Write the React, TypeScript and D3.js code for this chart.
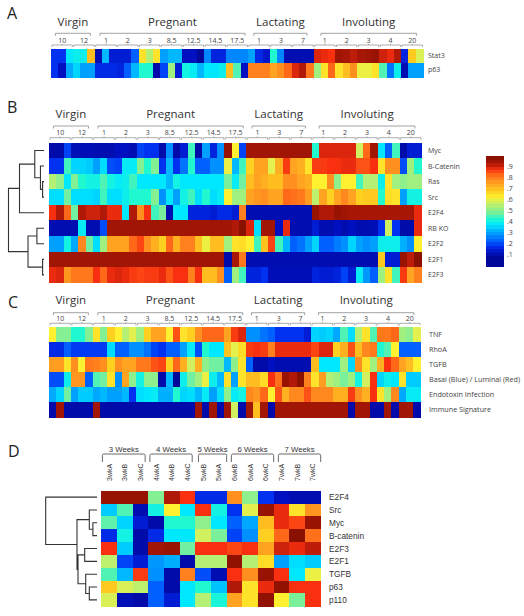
import React from "react";
import * as d3 from "d3";

// ---------- data ----------
const groupNames = ["Virgin", "Pregnant", "Lactating", "Involuting"];
const groupSpans = [[0.6, 5.4], [6.7, 26.6], [27.8, 35.1], [37, 50.1]];
const timeLabels = ["10", "12", "1", "2", "3", "8.5", "12.5", "14.5", "17.5", "1", "3", "7", "1", "2", "3", "4", "20"];

const rowsA = ["Stat3", "p63"];
const stat3 = [.15,.15,.35,.37,.37,.68,.08,.3,.12,.12,.12,.2,.62,.52,.62,.27,.3,.3,.1,.1,.05,.24,.13,.13,.24,.24,.24,.27,.14,.11,.4,.24,.08,.08,.08,.08,.87,.86,.85,.92,.91,.89,.91,.92,.93,.88,.86,.9,.13,.66,.56];
const p63 = [.15,.1,.28,.33,.27,.27,.14,.14,.14,.13,.2,.3,.4,.4,.07,.17,.5,.12,.38,.36,.3,.35,.35,.37,.68,.43,.1,.77,.77,.77,.72,.75,.8,.87,.9,.78,.5,.62,.8,.62,.68,.75,.58,.58,.62,.43,.22,.37,.08,.27,.27];

const rowsB = ["Myc", "B-Catenin", "Ras", "Src", "E2F4", "RB KO", "E2F2", "E2F1", "E2F3"];
const myc = [.07,.07,.17,.09,.09,.09,.08,.08,.08,.1,.1,.08,.17,.15,.15,.07,.25,.07,.12,.42,.07,.27,.13,.25,.93,.6,.17,.92,.92,.92,.92,.92,.92,.92,.92,.92,.4,.87,.87,.87,.87,.87,.55,.8,.92,.35,.2,.42,.07,.12,.12];
const bCatenin = [.15,.15,.42,.33,.33,.32,.27,.34,.18,.17,.36,.36,.47,.4,.47,.15,.3,.15,.22,.4,.2,.2,.25,.25,.58,.3,.42,.65,.72,.72,.57,.7,.84,.72,.7,.62,.84,.84,.85,.85,.86,.86,.82,.82,.85,.62,.75,.75,.18,.5,.4];
const ras = [.52,.48,.35,.47,.4,.38,.38,.43,.38,.36,.37,.42,.35,.35,.35,.35,.3,.38,.35,.35,.35,.35,.35,.35,.46,.36,.45,.68,.72,.7,.68,.68,.75,.75,.72,.7,.6,.6,.75,.48,.6,.6,.42,.52,.52,.37,.62,.5,.48,.5,.5];
const src = [.34,.34,.45,.34,.34,.34,.33,.42,.34,.34,.37,.4,.4,.4,.47,.25,.35,.27,.38,.42,.34,.4,.34,.36,.6,.5,.5,.72,.74,.75,.72,.72,.8,.79,.78,.73,.53,.72,.65,.72,.76,.72,.65,.66,.66,.4,.63,.62,.27,.38,.38];
const e2f4 = [.85,.9,.8,.45,.9,.88,.88,.9,.86,.86,.35,.9,.75,.85,.42,.46,.08,.35,.35,.13,.13,.13,.12,.14,.14,.12,.77,.08,.08,.08,.08,.08,.08,.08,.08,.08,.93,.9,.9,.93,.92,.91,.91,.91,.91,.91,.91,.91,.91,.91,.86];
const rbKo = [.08,.08,.08,.08,.36,.08,.08,.18,.92,.92,.92,.92,.92,.92,.92,.92,.92,.92,.92,.92,.92,.92,.92,.92,.92,.9,.96,.87,.34,.92,.92,.1,.86,.08,.08,.08,.12,.08,.08,.1,.08,.1,.08,.08,.09,.15,.55,.15,.07,.07,.86];
const e2f2 = [.27,.27,.38,.28,.76,.45,.34,.5,.72,.72,.72,.8,.83,.75,.7,.65,.8,.7,.77,.77,.68,.58,.68,.68,.5,.62,.63,.6,.42,.67,.83,.42,.3,.2,.22,.27,.33,.2,.2,.23,.25,.33,.27,.25,.27,.37,.37,.37,.29,.25,.6];
const e2f1 = [.92,.92,.92,.92,.92,.92,.92,.92,.92,.92,.92,.92,.92,.92,.92,.92,.92,.92,.92,.92,.92,.92,.92,.92,.07,.91,.78,.08,.08,.08,.08,.08,.08,.08,.08,.08,.08,.08,.08,.08,.08,.08,.08,.08,.08,.66,.12,.12,.93,.89,.95];
const e2f3 = [.86,.87,.74,.78,.78,.78,.85,.8,.86,.87,.86,.84,.83,.84,.84,.86,.82,.85,.85,.77,.85,.68,.68,.75,.2,.5,.42,.13,.13,.15,.09,.09,.09,.09,.09,.09,.13,.12,.12,.13,.17,.12,.36,.26,.2,.5,.62,.42,.84,.72,.77];

const rowsC = ["TNF", "RhoA", "TGFB", "Basal (Blue) / Luminal (Red)", "Endotoxin Infection", "Immune Signature"];
const tnf = [.6,.47,.47,.4,.4,.47,.62,.47,.65,.6,.52,.57,.5,.65,.72,.72,.6,.82,.62,.65,.75,.8,.8,.8,.72,.84,.87,.25,.25,.22,.2,.15,.15,.15,.15,.12,.33,.32,.33,.28,.43,.34,.52,.62,.43,.78,.78,.8,.5,.48,.57];
const rhoA = [.14,.14,.2,.16,.16,.16,.16,.16,.34,.2,.2,.25,.25,.22,.17,.15,.2,.2,.27,.36,.18,.4,.35,.35,.67,.57,.63,.84,.85,.84,.77,.86,.86,.86,.86,.86,.83,.87,.87,.65,.7,.82,.68,.76,.78,.4,.43,.6,.2,.2,.2];
const tgfb = [.73,.73,.62,.75,.6,.78,.77,.75,.65,.75,.72,.72,.78,.78,.82,.83,.65,.8,.7,.55,.7,.48,.45,.45,.3,.48,.62,.2,.07,.07,.1,.08,.08,.08,.08,.08,.68,.35,.35,.35,.5,.33,.75,.62,.5,.7,.85,.8,.72,.68,.6];
const basal = [.18,.18,.37,.74,.74,.2,.43,.45,.62,.25,.72,.48,.38,.48,.48,.07,.3,.05,.37,.45,.5,.58,.37,.3,.62,.27,.62,.68,.68,.63,.85,.79,.93,.9,.95,.77,.62,.73,.52,.5,.46,.5,.38,.55,.85,.33,.37,.35,.62,.32,.32];
const endotoxin = [.28,.33,.45,.27,.32,.32,.28,.3,.27,.27,.3,.15,.34,.35,.36,.29,.29,.4,.33,.34,.3,.36,.27,.34,.48,.36,.38,.76,.74,.8,.6,.82,.7,.76,.76,.82,.76,.76,.76,.7,.7,.84,.75,.7,.85,.62,.5,.76,.28,.36,.36];
const immune = [.07,.92,.07,.07,.07,.07,.92,.07,.07,.07,.07,.07,.07,.07,.07,.07,.07,.07,.07,.07,.92,.07,.92,.07,.92,.55,.07,.92,.68,.92,.07,.92,.92,.92,.92,.92,.92,.92,.92,.92,.92,.07,.92,.92,.07,.07,.92,.07,.92,.92,.07];

const colsD = ["3wkA", "3wkB", "3wkC", "4wkA", "4wkB", "4wkC", "5wkB", "5wkA", "6wkB", "6wkA", "6wkC", "7wkA", "7wkB", "7wkC"];
const rowsD = ["E2F4", "Src", "Myc", "B-catenin", "E2F3", "E2F1", "TGFB", "p63", "p110"];
const dE2f4 = [.93,.93,.93,.47,.9,.85,.14,.14,.75,.48,.15,.1,.08,.08];
const dSrc = [.32,.43,.08,.38,.6,.35,.85,.38,.15,.57,.93,.86,.62,.74];
const dMyc = [.44,.33,.12,.07,.4,.4,.48,.35,.2,.28,.68,.86,.83,.93];
const dBcat = [.14,.38,.07,.14,.35,.35,.55,.46,.17,.25,.65,.8,.95,.79];
const dE2f3 = [.85,.32,.07,.92,.93,.45,.85,.85,.83,.85,.72,.88,.86,.89];
const dE2f1 = [.53,.17,.12,.26,.29,.07,.52,.52,.94,.52,.63,.27,.34,.32];
const dTgfb = [.43,.3,.84,.25,.07,.77,.18,.08,.85,.75,.93,.85,.35,.58];
const dP63 = [.66,.56,.53,.2,.07,.35,.4,.31,.9,.62,.86,.94,.85,.85];
const dP110 = [.56,.09,.07,.2,.12,.35,.52,.39,.72,.62,.94,.6,.46,.85];

const weekNames = ["3 Weeks", "4 Weeks", "5 Weeks", "6 Weeks", "7 Weeks"];
const weekSpans = [[0.07, 2.8], [3.1, 5.8], [6.2, 8], [8.3, 11], [11.3, 14]];

const legendTicks = [.9, .8, .7, .6, .5, .4, .3, .2, .1];

// leaf = row index, node = [height, left, right]
type Tree = number | [number, Tree, Tree];
const treeB: Tree = [1, [.69, [.26, 0, [.1, 1, [.04, 2, 3]]], 4], [.45, [.2, 5, 6], [.04, 7, 8]]];
const treeD: Tree = [1, 0, [.39, [.15, 1, [.08, 2, 3]], [.37, [.24, 4, 5], [.22, 6, [.15, 7, 8]]]]];

// ---------- helpers ----------
const color = d3.scaleLinear<string>()
  .domain([.05, .1, .15, .2, .25, .3, .35, .4, .45, .5, .55, .6, .65, .7, .75, .8, .85, .9, .95])
  .range(["#00089a", "#0010c0", "#0030f0", "#0060ff", "#0090ff", "#00b8ff", "#00e8ff", "#20f8d0", "#70f0a0", "#a0f080", "#d0f060", "#fff030", "#ffd020", "#ffb020", "#ff9020", "#ff6818", "#f83010", "#b01808", "#8a1000"])
  .clamp(true);

const SANS = "'Open Sans', sans-serif";
const ARIAL = "'Liberation Sans', sans-serif";
const BR = "#8a8a8a";

function Cells({ data, x, y }: { data: number[][]; x: d3.ScaleBand<number>; y: d3.ScaleBand<number> }) {
  return (
    <g shapeRendering="crispEdges">
      {data.map((row, r) => row.map((v, c) => (
        <rect key={r + "-" + c} x={x(c)} y={y(r)} width={x.bandwidth() + 0.5} height={y.bandwidth() + 0.5} fill={color(v)} />
      )))}
    </g>
  );
}

function Panel({ letter, letterX, letterY, x0, x1, y0, y1, titleY, topY, labelY, subY, rows, data, labelX, labelSize }: any) {
  const n = data[0].length;
  const x = d3.scaleBand<number>().domain(d3.range(n)).range([x0, x1]);
  const y = d3.scaleBand<number>().domain(d3.range(rows.length)).range([y0, y1]);
  const cx = d3.scaleLinear().domain([0, n]).range([x0, x1]);
  return (
    <g>
      <text x={letterX} y={letterY} fontFamily={SANS} fontSize={16} fill="#222">{letter}</text>
      {groupNames.map((g, i) => {
        const a = cx(groupSpans[i][0]), b = cx(groupSpans[i][1]);
        return (
          <g key={g}>
            <text x={(a + b) / 2} y={titleY} textAnchor="middle" fontFamily={SANS} fontSize={11.5} fill="#333">{g}</text>
            <path d={`M${a},${topY + 2.5}V${topY}H${b}V${topY + 2.5}`} fill="none" stroke={BR} strokeWidth={0.8} />
          </g>
        );
      })}
      {timeLabels.map((t, i) => {
        const a = cx(i * 3) + 1, b = cx(i * 3 + 3) - 0.5, m = (a + b) / 2;
        return (
          <g key={i}>
            <text x={m} y={labelY} textAnchor="middle" fontFamily={SANS} fontSize={7} fill="#444">{t}</text>
            <path d={`M${a},${subY + 2}V${subY}H${b}V${subY + 2}M${m},${subY}V${subY - 1.2}`} fill="none" stroke={BR} strokeWidth={0.7} />
          </g>
        );
      })}
      <Cells data={data} x={x} y={y} />
      {rows.map((r: string, i: number) => (
        <text key={r} x={labelX} y={y(i)! + y.bandwidth() / 2 + 2.5} fontFamily={SANS} fontSize={labelSize} fill="#444">{r}</text>
      ))}
    </g>
  );
}

function Dendro({ tree, xScale, y, width }: { tree: Tree; xScale: d3.ScaleLinear<number, number>; y: d3.ScaleBand<number>; width: number }) {
  const parts: string[] = [];
  const walk = (t: Tree): [number, number] => {
    if (typeof t === "number") return [xScale(0), y(t)! + y.bandwidth() / 2];
    const [h, l, r] = t;
    const [xl, yl] = walk(l);
    const [xr, yr] = walk(r);
    const xh = xScale(h);
    parts.push(`M${xl},${yl}H${xh}V${yr}H${xr}`);
    return [xh, (yl + yr) / 2];
  };
  walk(tree);
  return <path d={parts.join("")} fill="none" stroke="#333" strokeWidth={width} />;
}

export default function App() {
  const yB = d3.scaleBand<number>().domain(d3.range(rowsB.length)).range([142.7, 282.7]);
  const xTreeB = d3.scaleLinear().domain([0, 1]).range([44, 8.5]);

  const xD = d3.scaleBand<number>().domain(d3.range(colsD.length)).range([101.3, 320.7]);
  const yD = d3.scaleBand<number>().domain(d3.range(rowsD.length)).range([490.7, 606.3]);
  const cxD = d3.scaleLinear().domain([0, colsD.length]).range([101.3, 320.7]);
  const xTreeD = d3.scaleLinear().domain([0, 1]).range([97, 45.7]);
  const dataD = [dE2f4, dSrc, dMyc, dBcat, dE2f3, dE2f1, dTgfb, dP63, dP110];

  const legY = d3.scaleLinear().domain([1, 0]).range([155.7, 266]);
  const stepCount = 32;
  const steps = d3.range(stepCount).map((i) => i / stepCount);
  const legendColorShift = -0.03;

  return (
    <svg width={524} height={616} style={{ position: "absolute", left: 0, top: 0, background: "#fff" }}>
      <Panel letter="A" letterX={7} letterY={19} x0={51} x1={423} y0={48.7} y1={77} titleY={26} topY={33.3} labelY={42.5} subY={45}
        rows={rowsA} data={[stat3, p63]} labelX={428} labelSize={7} />
      <Panel letter="B" letterX={7} letterY={113} x0={49} x1={421.5} y0={142.7} y1={282.7} titleY={118.3} topY={126} labelY={135} subY={137.7}
        rows={rowsB} data={[myc, bCatenin, ras, src, e2f4, rbKo, e2f2, e2f1, e2f3]} labelX={428} labelSize={7} />
      <Dendro tree={treeB} xScale={xTreeB} y={yB} width={1.1} />
      <Panel letter="C" letterX={8} letterY={308} x0={49} x1={420.5} y0={326.7} y1={417.3} titleY={304.3} topY={312.7} labelY={321} subY={323.3}
        rows={rowsC} data={[tnf, rhoA, tgfb, basal, endotoxin, immune]} labelX={429} labelSize={7.2} />

      {/* legend */}
      <g shapeRendering="crispEdges">
        {steps.map((s) => (
          <rect key={s} x={485.7} width={18.3} y={legY(s + 1 / stepCount)} height={legY(s) - legY(s + 1 / stepCount) + 0.5} fill={color(s + 1 / (2 * stepCount) + legendColorShift)} />
        ))}
      </g>
      {legendTicks.map((t) => (
        <text key={t} x={507} y={legY(t) + 2.5} fontFamily={SANS} fontSize={7} fill="#444">{String(t).replace("0.", ".")}</text>
      ))}

      {/* panel D */}
      <text x={8} y={457} fontFamily={SANS} fontSize={16} fill="#222">D</text>
      {weekNames.map((w, i) => {
        const a = cxD(weekSpans[i][0]), b = cxD(weekSpans[i][1]);
        return (
          <g key={w}>
            <text x={(a + b) / 2} y={451.5} textAnchor="middle" fontFamily={ARIAL} fontSize={7.8} fill="#333">{w}</text>
            <path d={`M${a},${462}V${455.5}Q${a},${454} ${a + 1.5},${454}H${b - 1.5}Q${b},${454} ${b},${455.5}V${462}`} fill="none" stroke="#444" strokeWidth={0.8} />
          </g>
        );
      })}
      {colsD.map((c, i) => (
        <text key={c} transform={`translate(${xD(i)! + xD.bandwidth() / 2 + 2.5},481) rotate(-90)`} fontFamily={ARIAL} fontSize={7} fill="#333">{c}</text>
      ))}
      <Cells data={dataD} x={xD} y={yD} />
      {rowsD.map((r, i) => (
        <text key={r} x={329} y={yD(i)! + yD.bandwidth() / 2 + 3} fontFamily={ARIAL} fontSize={8.3} fill="#333">{r}</text>
      ))}
      <Dendro tree={treeD} xScale={xTreeD} y={yD} width={1.1} />
    </svg>
  );
}
